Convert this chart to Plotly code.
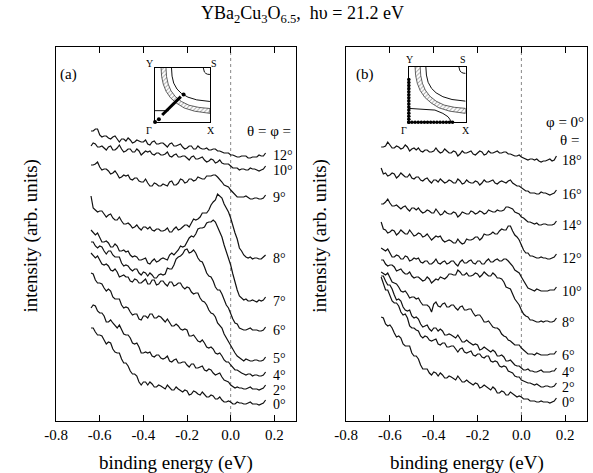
import plotly.graph_objects as go

# Binding-energy sampling of every spectrum (eV), 10 meV steps
energy = [-0.64, -0.63, -0.62, -0.61, -0.60, -0.59, -0.58, -0.57, -0.56, -0.55,
          -0.54, -0.53, -0.52, -0.51, -0.50, -0.49, -0.48, -0.47, -0.46, -0.45,
          -0.44, -0.43, -0.42, -0.41, -0.40, -0.39, -0.38, -0.37, -0.36, -0.35,
          -0.34, -0.33, -0.32, -0.31, -0.30, -0.29, -0.28, -0.27, -0.26, -0.25,
          -0.24, -0.23, -0.22, -0.21, -0.20, -0.19, -0.18, -0.17, -0.16, -0.15,
          -0.14, -0.13, -0.12, -0.11, -0.10, -0.09, -0.08, -0.07, -0.06, -0.05,
          -0.04, -0.03, -0.02, -0.01, 0.00, 0.01, 0.02, 0.03, 0.04, 0.05,
          0.06, 0.07, 0.08, 0.09, 0.10, 0.11, 0.12, 0.13, 0.14, 0.15, 0.16]

# ---- panel (a): cut along Gamma-S, theta = phi ----
labels_a = ["0°", "2°", "4°", "5°", "6°", "7°", "8°", "9°", "10°", "12°"]
offsets_a = [17, 32, 45, 60, 91, 120, 163, 222, 251, 264]

a_0 = [76, 76, 72, 69, 69, 68, 64, 60, 62, 61, 55, 52, 51, 51, 45, 41, 41, 38, 33, 30,
       30, 28, 22, 19, 22, 22, 19, 22, 20, 17, 17, 19, 18, 16, 15, 19, 17, 14, 14, 17,
       15, 13, 12, 14, 13, 9, 10, 13, 12, 10, 9, 12, 10, 7, 7, 9, 8, 5, 5, 7,
       4, 2, 2, 3, 2, 0, 0, 2, 1, 1, 0, 0, 1, 2, 0, 0, 0, -1, 0, 1, 4]
a_2 = [81, 84, 83, 78, 76, 76, 73, 67, 67, 69, 66, 63, 61, 64, 60, 55, 54, 54, 51, 46,
       45, 46, 42, 36, 36, 37, 36, 37, 33, 32, 34, 34, 31, 30, 31, 33, 28, 27, 29, 30,
       26, 26, 27, 27, 24, 22, 25, 25, 21, 21, 22, 23, 19, 18, 20, 19, 16, 14, 15, 16,
       12, 9, 8, 7, 4, 2, 1, 2, 1, 1, 0, 0, 1, 2, 0, 0, 0, -1, 0, 1, 4]
a_4 = [103, 102, 96, 93, 93, 92, 88, 85, 87, 85, 79, 77, 77, 77, 71, 68, 69, 68, 64, 61,
       62, 62, 57, 56, 60, 60, 58, 62, 62, 58, 58, 60, 59, 56, 54, 57, 54, 50, 50, 52,
       50, 47, 46, 47, 46, 40, 40, 41, 38, 35, 34, 36, 33, 29, 28, 29, 27, 23, 22, 23,
       20, 16, 14, 14, 11, 8, 6, 6, 4, 3, 2, 1, 2, 2, 0, 1, 1, 0, 0, 1, 4]
a_5 = [108, 105, 103, 105, 101, 97, 96, 97, 95, 91, 90, 92, 89, 84, 85, 86, 84, 84, 80, 79,
       82, 81, 78, 78, 80, 82, 77, 77, 81, 81, 76, 77, 80, 80, 77, 75, 79, 79, 75, 76,
       78, 78, 74, 72, 74, 73, 69, 67, 68, 68, 63, 60, 59, 56, 51, 48, 47, 44, 38, 36,
       33, 27, 23, 20, 15, 12, 8, 5, 3, 2, 0, 2, 1, 0, 0, 1, 1, 0, 0, 1, 4]
a_6 = [88, 88, 84, 82, 84, 83, 79, 76, 79, 79, 75, 73, 73, 73, 67, 64, 65, 64, 61, 59,
       61, 61, 57, 55, 58, 57, 54, 57, 55, 52, 52, 55, 56, 55, 56, 62, 61, 61, 65, 71,
       73, 74, 76, 80, 81, 77, 78, 80, 77, 72, 69, 68, 63, 57, 54, 53, 49, 43, 40, 40,
       36, 30, 25, 22, 16, 11, 7, 6, 2, 1, 0, 0, 1, 2, 0, 0, 0, -1, -1, 0, 3]
a_7 = [71, 68, 66, 68, 63, 59, 59, 60, 58, 54, 54, 57, 55, 50, 50, 51, 49, 50, 46, 44,
       45, 44, 41, 41, 42, 43, 38, 37, 40, 42, 39, 40, 42, 43, 42, 41, 46, 48, 46, 48,
       51, 55, 54, 55, 59, 63, 65, 64, 67, 72, 73, 73, 74, 78, 79, 79, 81, 79, 74, 69,
       64, 56, 50, 44, 36, 27, 18, 11, 5, 3, 1, 2, 0, 0, 1, 0, -1, 1, 0, 1, 4]
a_8 = [62, 50, 48, 46, 47, 47, 44, 41, 43, 44, 40, 38, 38, 41, 37, 34, 34, 35, 33, 30,
       31, 33, 30, 28, 31, 31, 29, 31, 28, 27, 29, 29, 27, 27, 28, 30, 26, 26, 29, 31,
       28, 29, 31, 33, 33, 31, 35, 39, 38, 39, 41, 45, 45, 45, 48, 53, 56, 58, 64, 62,
       60, 54, 50, 46, 40, 32, 25, 19, 10, 7, 3, 1, 0, 1, -1, 0, 0, -1, -1, 1, 3]
a_9 = [34, 34, 35, 37, 32, 29, 30, 30, 28, 25, 26, 28, 25, 21, 22, 24, 23, 24, 20, 19,
       21, 21, 18, 17, 17, 20, 16, 13, 13, 16, 15, 13, 13, 15, 14, 13, 17, 18, 14, 14,
       16, 20, 19, 16, 17, 20, 20, 18, 19, 22, 21, 20, 20, 23, 23, 23, 24, 24, 22, 20,
       17, 14, 13, 12, 9, 7, 4, 2, 2, 2, 2, 3, 1, 0, 0, 1, 1, 0, 0, 1, 4]
a_10 = [24, 27, 26, 23, 23, 24, 22, 20, 23, 24, 20, 20, 22, 25, 21, 18, 19, 21, 21, 18,
        18, 21, 19, 15, 17, 19, 18, 19, 16, 15, 17, 17, 15, 15, 16, 18, 14, 13, 15, 16,
        13, 13, 14, 14, 12, 10, 13, 14, 11, 11, 12, 13, 10, 8, 9, 11, 10, 7, 8, 10,
        7, 6, 6, 6, 4, 2, 2, 2, 0, 1, 1, 0, 0, 2, 1, 1, 0, -1, 0, 1, 4]
a_12 = [26, 26, 28, 28, 22, 20, 21, 21, 19, 18, 20, 21, 18, 15, 18, 18, 16, 19, 17, 14,
        15, 17, 16, 15, 15, 17, 13, 12, 15, 16, 13, 13, 14, 14, 12, 10, 13, 14, 11, 11,
        12, 13, 10, 8, 9, 11, 11, 8, 8, 11, 9, 8, 8, 9, 7, 7, 8, 8, 6, 6,
        5, 4, 4, 4, 2, 2, 1, 0, 0, 1, 1, 1, -1, -1, 0, 0, 0, 2, 1, 1, 4]

# ---- panel (b): phi = 0, theta scanned ----
labels_b = ["0°", "2°", "4°", "6°", "8°", "10°", "12°", "14°", "16°", "18°"]
offsets_b = [19, 34, 49, 66, 99, 130, 163, 196, 227, 261]

b_0 = [85, 84, 78, 76, 77, 74, 69, 65, 66, 64, 58, 56, 56, 56, 49, 46, 46, 43, 37, 33,
       33, 33, 29, 27, 30, 29, 26, 29, 27, 24, 24, 26, 25, 23, 22, 26, 23, 20, 20, 22,
       20, 18, 17, 19, 18, 14, 15, 17, 15, 13, 12, 15, 13, 9, 9, 11, 10, 7, 7, 10,
       8, 6, 5, 6, 5, 3, 3, 3, 1, 1, 1, 0, 0, 1, 0, 0, 0, -1, 0, 1, 4]
b_2 = [110, 103, 97, 97, 91, 86, 84, 84, 81, 75, 72, 73, 69, 61, 59, 59, 57, 56, 51, 49,
       51, 50, 47, 46, 47, 48, 43, 42, 44, 44, 40, 40, 41, 41, 38, 35, 38, 39, 35, 34,
       35, 36, 32, 31, 33, 33, 30, 29, 31, 31, 26, 25, 26, 25, 21, 20, 21, 20, 16, 15,
       14, 11, 10, 10, 7, 6, 5, 4, 4, 3, 2, 3, 1, 0, 0, 1, 1, 0, 0, 1, 4]
b_4 = [96, 96, 91, 87, 87, 83, 77, 72, 73, 71, 65, 62, 61, 62, 56, 54, 55, 53, 48, 45,
       46, 47, 43, 41, 44, 44, 41, 43, 41, 37, 37, 38, 37, 35, 34, 37, 34, 30, 30, 32,
       30, 28, 27, 28, 27, 22, 23, 25, 23, 21, 20, 22, 20, 16, 16, 17, 15, 11, 11, 12,
       9, 7, 6, 6, 4, 2, 2, 3, 1, 1, 0, 0, 1, 2, 0, 0, 0, 0, 1, 1, 4]
b_6 = [83, 81, 80, 82, 77, 73, 72, 71, 68, 64, 63, 64, 61, 57, 58, 58, 56, 57, 53, 50,
       50, 50, 48, 43, 51, 53, 49, 48, 51, 52, 48, 48, 50, 50, 47, 45, 48, 49, 45, 45,
       46, 46, 42, 39, 40, 40, 37, 33, 33, 34, 31, 28, 27, 27, 25, 21, 19, 18, 15, 14,
       12, 10, 10, 10, 7, 5, 3, 1, 1, 1, 0, 2, 1, 0, 0, 0, 0, 1, 1, 1, 4]
b_8 = [62, 62, 58, 56, 57, 57, 55, 51, 52, 53, 50, 48, 48, 50, 46, 44, 45, 45, 43, 41,
       42, 45, 43, 39, 41, 43, 42, 45, 44, 43, 45, 48, 48, 47, 47, 52, 50, 47, 47, 49,
       46, 46, 47, 49, 48, 45, 47, 50, 48, 46, 46, 49, 47, 44, 44, 43, 40, 35, 34, 33,
       28, 23, 20, 17, 12, 8, 6, 5, 2, 2, 1, 0, 0, 1, 0, 1, 1, 0, 0, 1, 4]
b_10 = [43, 41, 40, 42, 38, 34, 34, 36, 35, 32, 32, 35, 34, 30, 31, 33, 32, 33, 29, 28,
        30, 30, 27, 27, 29, 32, 28, 27, 29, 30, 27, 28, 30, 30, 27, 25, 29, 31, 28, 28,
        30, 31, 28, 27, 30, 30, 27, 27, 30, 32, 29, 29, 31, 32, 30, 30, 32, 32, 30, 28,
        25, 21, 19, 18, 14, 10, 6, 3, 2, 1, 0, 2, 1, 0, 0, 0, 0, 1, 1, 1, 4]
b_12 = [36, 29, 28, 25, 26, 28, 27, 23, 25, 28, 26, 24, 24, 28, 25, 22, 23, 25, 24, 21,
        22, 24, 21, 18, 20, 22, 21, 22, 18, 16, 17, 18, 17, 15, 15, 19, 16, 14, 15, 19,
        18, 18, 19, 21, 21, 18, 20, 24, 23, 23, 24, 26, 24, 24, 27, 29, 28, 28, 32, 32,
        27, 23, 21, 18, 13, 8, 5, 5, 2, 2, 1, 0, 0, 1, 0, 0, -1, -1, 0, 1, 4]
b_14 = [21, 21, 23, 26, 22, 19, 19, 20, 18, 16, 18, 19, 16, 14, 17, 17, 15, 17, 14, 12,
        13, 15, 14, 12, 12, 16, 13, 10, 11, 14, 12, 11, 11, 13, 12, 8, 10, 13, 12, 11,
        11, 14, 13, 11, 12, 14, 13, 11, 12, 15, 14, 13, 13, 15, 14, 14, 15, 18, 18, 17,
        16, 13, 12, 11, 8, 7, 5, 3, 3, 2, 1, 2, 0, 0, 1, 1, 0, 0, 0, 1, 4]
b_16 = [26, 20, 21, 18, 19, 21, 20, 16, 18, 21, 19, 17, 17, 20, 16, 15, 17, 17, 14, 13,
        15, 16, 13, 11, 14, 14, 12, 15, 13, 11, 12, 14, 13, 11, 11, 15, 13, 10, 11, 14,
        12, 11, 11, 13, 12, 9, 11, 14, 12, 12, 13, 14, 11, 10, 12, 13, 12, 11, 13, 14,
        11, 9, 8, 8, 6, 4, 3, 3, 1, 1, 1, 0, 0, 2, 1, 1, 0, -1, 0, 1, 4]
b_18 = [13, 13, 14, 18, 15, 12, 12, 14, 13, 11, 12, 15, 13, 9, 11, 12, 10, 12, 9, 8,
        10, 10, 8, 8, 9, 12, 9, 7, 8, 11, 9, 7, 7, 9, 8, 4, 6, 9, 7, 7,
        8, 9, 6, 5, 7, 9, 8, 5, 6, 9, 7, 7, 8, 9, 7, 7, 8, 8, 6, 6,
        5, 4, 4, 5, 3, 2, 1, 0, 1, 1, 0, 1, -1, -2, -1, -1, 0, 1, -1, 0, 4]

spectra_a = [a_0, a_2, a_4, a_5, a_6, a_7, a_8, a_9, a_10, a_12]
spectra_b = [b_0, b_2, b_4, b_6, b_8, b_10, b_12, b_14, b_16, b_18]

# ---- Brillouin-zone sketches (units of the zone: Gamma=(0,0), S=(1,1)) ----
arc_kx = [0.88, 0.885, 0.90, 0.925, 0.955, 1.0]
arc_ky = [1.0, 0.955, 0.925, 0.90, 0.885, 0.88]
fs_out_kx = [0.20, 0.21, 0.24, 0.29, 0.37, 0.48, 0.62, 0.80, 1.0]
fs_out_ky = [1.0, 0.84, 0.70, 0.58, 0.47, 0.38, 0.31, 0.27, 0.25]
fs_in_kx = [0.30, 0.31, 0.34, 0.40, 0.48, 0.60, 0.76, 1.0]
fs_in_ky = [1.0, 0.85, 0.72, 0.61, 0.53, 0.46, 0.41, 0.38]
band_edge_kx = [0.11, 0.12, 0.15, 0.20, 0.28, 0.39, 0.53, 0.72, 1.0]
band_edge_ky = [1.0, 0.84, 0.70, 0.57, 0.45, 0.35, 0.26, 0.20, 0.16]
chain_a_kx = [0.0, 0.25]
chain_a_ky = [0.21, 0.21]
chain_b_kx = [0.0, 0.25, 0.46, 0.60, 0.69, 0.76]
chain_b_ky = [0.25, 0.24, 0.22, 0.16, 0.10, 0.0]
cut_a_kx = [0.13, 0.47]
cut_a_ky = [0.13, 0.47]
pts_a_kx = [0.0, 0.07, 0.52]
pts_a_ky = [0.0, 0.05, 0.51]
k_edge_b = [0.0, 0.055, 0.11, 0.165, 0.22, 0.275, 0.33, 0.385, 0.44, 0.495,
            0.55, 0.605, 0.66, 0.715, 0.77]

SERIF = "Liberation Serif"
fig = go.Figure()

def add_spectra(spectra, offsets, xa, ya):
    for spec, off in zip(spectra, offsets):
        fig.add_trace(go.Scatter(
            x=energy, y=[v + off for v in spec], mode="lines",
            line=dict(color="#111111", width=1.2),
            xaxis=xa, yaxis=ya, showlegend=False, hoverinfo="skip"))

add_spectra(spectra_a, offsets_a, "x", "y")
add_spectra(spectra_b, offsets_b, "x2", "y2")

def add_zone(xa, ya, chain_x, chain_y):
    band_x = band_edge_kx + fs_out_kx[::-1]
    band_y = band_edge_ky + fs_out_ky[::-1]
    fig.add_trace(go.Scatter(
        x=band_x, y=band_y, mode="lines", fill="toself",
        fillcolor="rgba(0,0,0,0)",
        fillpattern=dict(shape="/", size=3, solidity=0.3,
                         fgcolor="#444444", bgcolor="white"),
        line=dict(color="#222222", width=0.7),
        xaxis=xa, yaxis=ya, showlegend=False, hoverinfo="skip"))
    for kx, ky in [(fs_in_kx, fs_in_ky), (arc_kx, arc_ky), (chain_x, chain_y)]:
        fig.add_trace(go.Scatter(
            x=kx, y=ky, mode="lines", line=dict(color="#111111", width=1.0),
            xaxis=xa, yaxis=ya, showlegend=False, hoverinfo="skip"))

add_zone("x3", "y3", chain_a_kx, chain_a_ky)
add_zone("x4", "y4", chain_b_kx, chain_b_ky)

# measured cut in (a)
fig.add_trace(go.Scatter(x=cut_a_kx, y=cut_a_ky, mode="lines",
                         line=dict(color="black", width=3),
                         xaxis="x3", yaxis="y3", showlegend=False, hoverinfo="skip"))
fig.add_trace(go.Scatter(x=pts_a_kx, y=pts_a_ky, mode="markers",
                         marker=dict(color="black", size=4), cliponaxis=False,
                         xaxis="x3", yaxis="y3", showlegend=False, hoverinfo="skip"))
# k-points in (b): along Gamma-Y and Gamma-X
fig.add_trace(go.Scatter(x=[0.0] * len(k_edge_b) + k_edge_b,
                         y=k_edge_b + [0.0] * len(k_edge_b), mode="markers",
                         marker=dict(color="black", size=3.6), cliponaxis=False,
                         xaxis="x4", yaxis="y4", showlegend=False, hoverinfo="skip"))

W, H = 593, 473
def px_x(p): return p / W
def px_y(p): return 1 - p / H

tickvals = [-0.8, -0.6, -0.4, -0.2, 0.0, 0.2]
ticktext = ["-0.8", "-0.6", "-0.4", "-0.2", "0.0", "0.2"]
main_x = dict(range=[-0.8, 0.3], tickvals=tickvals, ticktext=ticktext,
              ticks="inside", ticklen=6, tickwidth=1, tickcolor="black",
              showline=True, linecolor="black", linewidth=1.3, mirror="ticks",
              showgrid=False, zeroline=False,
              tickfont=dict(family=SERIF, size=15, color="black"))
main_y = dict(range=[0, 374], showticklabels=False, ticks="",
              showline=True, linecolor="black", linewidth=1.3, mirror=True,
              showgrid=False, zeroline=False)
inset_ax = dict(range=[0, 1], showticklabels=False, ticks="", showgrid=False,
                zeroline=False, showline=True, linecolor="black", linewidth=1,
                mirror=True)

ydom = [px_y(421), px_y(47)]
fig.update_layout(
    width=W, height=H, margin=dict(l=0, r=0, t=0, b=0),
    paper_bgcolor="white", plot_bgcolor="white",
    xaxis=dict(domain=[px_x(45), px_x(290)], anchor="y", **main_x),
    yaxis=dict(domain=ydom, anchor="x", **main_y),
    xaxis2=dict(domain=[px_x(341), px_x(587)], anchor="y2", **main_x),
    yaxis2=dict(domain=ydom, anchor="x2", **main_y),
    xaxis3=dict(domain=[px_x(146), px_x(202)], anchor="y3", **inset_ax),
    yaxis3=dict(domain=[px_y(122), px_y(68)], anchor="x3", **inset_ax),
    xaxis4=dict(domain=[px_x(405), px_x(463)], anchor="y4", **inset_ax),
    yaxis4=dict(domain=[px_y(122.3), px_y(66.7)], anchor="x4", **inset_ax),
)

# Fermi level markers
for xr, yr in [("x", "y domain"), ("x2", "y2 domain")]:
    fig.add_shape(type="line", xref=xr, yref=yr, x0=0, x1=0, y0=0, y1=1,
                  line=dict(color="#888888", width=1, dash="dot"), layer="below")

ann = []
def text(x, y, s, size=15, xref="paper", yref="paper", xanchor="center",
         yanchor="middle", angle=0, yshift=0):
    ann.append(dict(x=x, y=y, text=s, xref=xref, yref=yref, showarrow=False,
                    xanchor=xanchor, yanchor=yanchor, textangle=angle,
                    yshift=yshift,
                    font=dict(family=SERIF, size=size, color="black")))

# small nudges keep neighbouring angle labels apart
nudge_a = {"12°": 2, "9°": 2, "5°": 3, "4°": 1, "2°": -1}
for lab, off in zip(labels_a, offsets_a):
    text(0.185, off, lab, size=14, xref="x", yref="y", xanchor="left",
         yshift=nudge_a.get(lab, 0))
for lab, off in zip(labels_b, offsets_b):
    text(0.175, off, lab, size=14, xref="x2", yref="y2", xanchor="left")

# header texts beside the spectra (domain coordinates of each panel)
text(0.985, 0.775, "θ = φ =", xref="x domain", yref="y domain", xanchor="right")
text(0.995, 0.80, "φ = 0°", xref="x2 domain", yref="y2 domain", xanchor="right")
text(0.975, 0.751, "θ =", xref="x2 domain", yref="y2 domain", xanchor="right")

nb = "\u00a0"
text(0.5, px_y(14), "YBa<sub>2</sub>Cu<sub>3</sub>O<sub>6.5</sub>," + nb * 2 +
     "hυ = 21.2 eV", size=18)
text(px_x(58), px_y(74), "(a)", size=15)
text(px_x(360), px_y(74), "(b)", size=15)
text(px_x(19), px_y(236), "intensity (arb. units)", size=19, angle=-90)
text(px_x(314), px_y(236), "intensity (arb. units)", size=19, angle=-90)
text(px_x(167), px_y(463), "binding energy (eV)", size=19)
text(px_x(464), px_y(463), "binding energy (eV)", size=19)

# Brillouin-zone corner labels (domain coordinates of each inset)
for xr, yr, pos in [("x3 domain", "y3 domain",
                     [(-0.11, 1.09), (1.07, 1.09), (-0.11, -0.16), (1.02, -0.16)]),
                    ("x4 domain", "y4 domain",
                     [(0.02, 1.13), (0.95, 1.13), (-0.09, -0.15), (1.0, -0.15)])]:
    for (kx, ky), s in zip(pos, ["Y", "S", "Γ", "X"]):
        text(kx, ky, s, size=10, xref=xr, yref=yr)

fig.update_layout(annotations=ann)
fig.write_html("out.html")
